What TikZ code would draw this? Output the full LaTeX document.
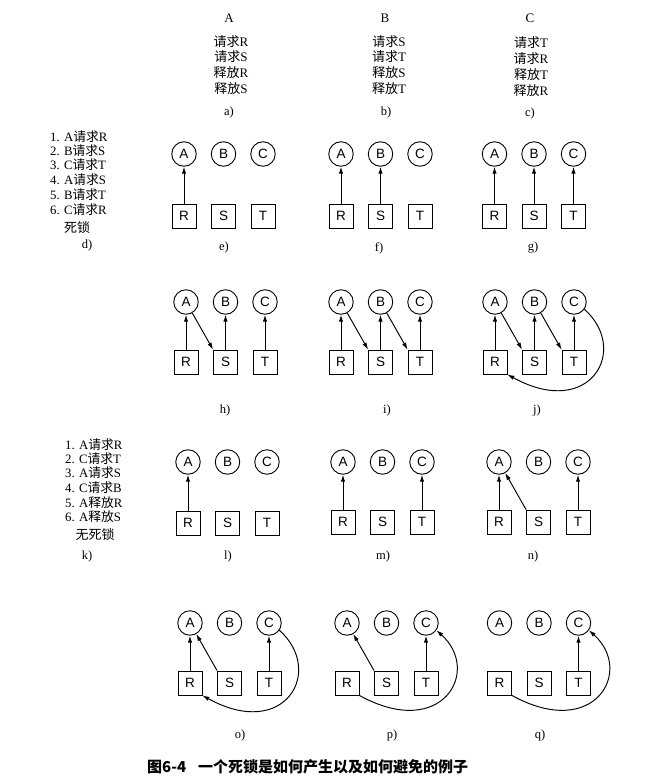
\documentclass[tikz,border=0pt]{standalone}
\usepackage{fontspec}
\setmainfont{Liberation Serif}
\newfontfamily\cjk{Noto Sans CJK SC}
\newfontfamily\lsans{Liberation Sans}
\usetikzlibrary{arrows.meta,calc}
\newcommand\zh[1]{{\cjk #1}}
\tikzset{
  proc/.style={circle, draw, line width=0.9pt, minimum size=24.5pt, inner sep=0pt, font=\lsans\fontsize{13.5}{13.5}\selectfont},
  res/.style={rectangle, draw, line width=0.9pt, minimum size=24pt, inner sep=0pt, font=\lsans\fontsize{13.5}{13.5}\selectfont},
  edge/.style={line width=0.95pt, -{Latex[length=7pt,width=4.4pt]}},
  txt/.style={font=\fontsize{13}{13}\selectfont, inner sep=0pt},
  lst/.style={font=\fontsize{12.8}{13}\selectfont, inner sep=0pt, anchor=west},
  lbl/.style={font=\fontsize{12.5}{12.5}\selectfont, inner sep=0pt},
  captxt/.style={font=\cjk\bfseries\fontsize{15}{15}\selectfont, inner sep=0pt}
}
\newcommand\rag[4]{%
  \node[proc] (#1A) at (#2,#3) {A};
  \node[proc] (#1B) at (#2+39.5,#3) {B};
  \node[proc] (#1C) at (#2+79,#3) {C};
  \node[res] (#1R) at (#2,#4) {R};
  \node[res] (#1S) at (#2+39.5,#4) {S};
  \node[res] (#1T) at (#2+79,#4) {T};
}
\begin{document}
\begin{tikzpicture}[x=1pt,y=-1pt]
\useasboundingbox[fill=white] (0,0) rectangle (656,784);
% top row
\node[txt] (ha) at (229,18) {A};
\node[txt] (a1) at (231,42) {\zh{请求}R};
\node[txt] (a2) at (231,57) {\zh{请求}S};
\node[txt] (a3) at (231,73) {\zh{释放}R};
\node[txt] (a4) at (231,89) {\zh{释放}S};
\node[lbl] (la) at (229,112) {a)};
\node[txt] (hb) at (385,18) {B};
\node[txt] (b1) at (389,42) {\zh{请求}S};
\node[txt] (b2) at (389,57) {\zh{请求}T};
\node[txt] (b3) at (389,73) {\zh{释放}S};
\node[txt] (b4) at (389,89) {\zh{释放}T};
\node[lbl] (lb) at (386,112) {b)};
\node[txt] (hc) at (530,18) {C};
\node[txt] (c1) at (531,43) {\zh{请求}T};
\node[txt] (c2) at (531,59) {\zh{请求}R};
\node[txt] (c3) at (531,75) {\zh{释放}T};
\node[txt] (c4) at (531,91) {\zh{释放}R};
\node[lbl] (lc) at (530,113) {c)};
% d list
\node[lst] (d1) at (50,137) {1. A\zh{请求}R};
\node[lst] (d2) at (50,151) {2. B\zh{请求}S};
\node[lst] (d3) at (50,165) {3. C\zh{请求}T};
\node[lst] (d4) at (50,180) {4. A\zh{请求}S};
\node[lst] (d5) at (50,195) {5. B\zh{请求}T};
\node[lst] (d6) at (50,210) {6. C\zh{请求}R};
\node[txt] (d7) at (77,228) {\zh{死锁}};
\node[lbl] (ld) at (87,245) {d)};
% k list
\node[lst] (k1) at (65,445) {1. A\zh{请求}R};
\node[lst] (k2) at (65,459) {2. C\zh{请求}T};
\node[lst] (k3) at (65,473) {3. A\zh{请求}S};
\node[lst] (k4) at (65,488) {4. C\zh{请求}B};
\node[lst] (k5) at (65,503) {5. A\zh{释放}R};
\node[lst] (k6) at (65,517) {6. A\zh{释放}S};
\node[txt] (k7) at (95,535) {\zh{无死锁}};
\node[lbl] (lk) at (87,556) {k)};
% panels
\rag{e}{184}{154}{216}
\rag{f}{341}{154}{216}
\rag{g}{494.5}{154}{216}
\rag{h}{186}{302}{362}
\rag{i}{341}{302}{362}
\rag{j}{495}{302}{362}
\rag{l}{188}{462}{523}
\rag{m}{343}{462}{522}
\rag{n}{499}{462}{522}
\rag{o}{190}{623}{683}
\rag{p}{347}{623}{683}
\rag{q}{499.5}{623}{683}
% labels
\node[lbl] (le) at (224,247) {e)};
\node[lbl] (lf) at (379,248) {f)};
\node[lbl] (lg) at (533,248) {g)};
\node[lbl] (lh) at (225,410) {h)};
\node[lbl] (li) at (387,410) {i)};
\node[lbl] (lj) at (537,410) {j)};
\node[lbl] (ll) at (228,556) {l)};
\node[lbl] (lm) at (383,556) {m)};
\node[lbl] (ln) at (533,556) {n)};
\node[lbl] (lo) at (240,735) {o)};
\node[lbl] (lp) at (392,735) {p)};
\node[lbl] (lq) at (540,735) {q)};
% edges
\draw[edge] (eR) -- (eA);
\draw[edge] (fR) -- (fA);
\draw[edge] (fS) -- (fB);
\draw[edge] (gR) -- (gA);
\draw[edge] (gS) -- (gB);
\draw[edge] (gT) -- (gC);
\draw[edge] (hR) -- (hA);
\draw[edge] (hA) -- (hS.north west);
\draw[edge] (hS) -- (hB);
\draw[edge] (hT) -- (hC);
\draw[edge] (iR) -- (iA);
\draw[edge] (iA) -- (iS.north west);
\draw[edge] (iS) -- (iB);
\draw[edge] (iB) -- (iT.north west);
\draw[edge] (iT) -- (iC);
\draw[edge] (jR) -- (jA);
\draw[edge] (jA) -- (jS.north west);
\draw[edge] (jS) -- (jB);
\draw[edge] (jB) -- (jT.north west);
\draw[edge] (jT) -- (jC);
\draw[edge] (jC.-35) .. controls ($(jC)+(56,48)$) and ($(jC)+(16,118)$) .. (jR.south east);
\draw[edge] (lR) -- (lA);
\draw[edge] (mR) -- (mA);
\draw[edge] (mT) -- (mC);
\draw[edge] (nR) -- (nA);
\draw[edge] (nS.north west) -- (nA);
\draw[edge] (nT) -- (nC);
\draw[edge] (oR) -- (oA);
\draw[edge] (oS.north west) -- (oA);
\draw[edge] (oT) -- (oC);
\draw[edge] (oC.-35) .. controls ($(oC)+(56,48)$) and ($(oC)+(16,118)$) .. (oR.south east);
\draw[edge] (pS.north west) -- (pA);
\draw[edge] (pT) -- (pC);
\draw[edge] (pR.south east) .. controls ($(pC)+(16,118)$) and ($(pC)+(56,48)$) .. (pC.-35);
\draw[edge] (qT) -- (qC);
\draw[edge] (qR.south east) .. controls ($(qC)+(16,118)$) and ($(qC)+(56,48)$) .. (qC.-35);
% caption
\node[captxt, anchor=west] (capn) at (147,767) {图6-4\hspace{0.8em}一个死锁是如何产生以及如何避免的例子};
\end{tikzpicture}
\end{document}
